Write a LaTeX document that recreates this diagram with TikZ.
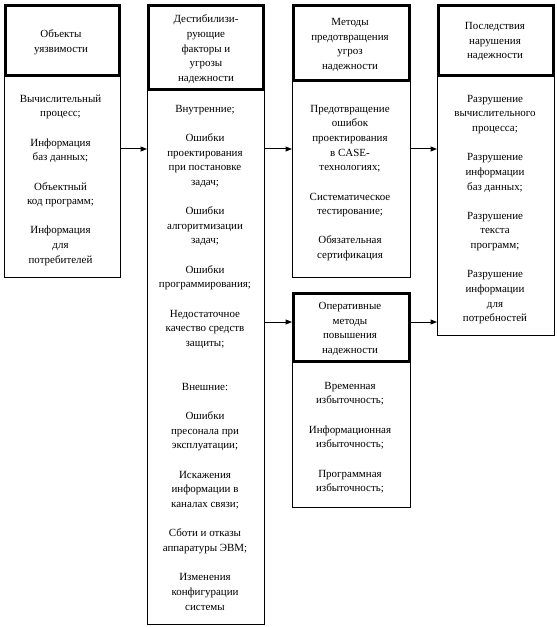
\documentclass[tikz,border=0pt]{standalone}
\usepackage{fontspec}
\setmainfont{Liberation Serif}
\usetikzlibrary{arrows.meta}
\newcommand\gapline{\\\strut\\}
\begin{document}
\begin{tikzpicture}[x=1bp,y=-1bp,
  txt/.style={font=\fontsize{11}{14.7}\selectfont, align=center, inner sep=0pt, anchor=north},
  bodybox/.style={draw, line width=1bp, inner sep=0pt, fill=white},
  headbox/.style={draw, line width=3bp, inner sep=0pt, fill=white},
  conn/.style={line width=1bp, -{Triangle[length=6.5bp,width=5bp]}}]
\useasboundingbox (0,0) rectangle (557,627);
% body boxes
\node[bodybox, minimum width=116bp, minimum height=201.5bp] (b1) at (62.5,176.75) {};
\node[bodybox, minimum width=117bp, minimum height=534.5bp] (b2) at (206,357.25) {};
\node[bodybox, minimum width=118bp, minimum height=196.5bp] (b3) at (351.5,179.25) {};
\node[bodybox, minimum width=118bp, minimum height=145.5bp] (b4) at (351.5,434.75) {};
\node[bodybox, minimum width=117bp, minimum height=259.5bp] (b5) at (496,205.75) {};
% head boxes
\node[headbox, minimum width=114bp, minimum height=70bp] (h1) at (62.5,40.5) {};
\node[headbox, minimum width=115bp, minimum height=84bp] (h2) at (206,47.5) {};
\node[headbox, minimum width=116bp, minimum height=75bp] (h3) at (351.5,43) {};
\node[headbox, minimum width=116bp, minimum height=68bp] (h4) at (351.5,327.5) {};
\node[headbox, minimum width=115bp, minimum height=70bp] (h5) at (496,40.5) {};
% texts
\node[txt] (t1h) at (61,27.5) {\strut Объекты\\уязвимости};
\node[txt] (t1b) at (60.5,91.7) {\strut Вычислительный\\процесс;\gapline Информация\\баз данных;\gapline Объектный\\код программ;\gapline Информация\\для\\потребителей};
\node[txt] (t2h) at (206,12.5) {\strut Дестибилизи-\\рующие\\факторы и\\угрозы\\надежности};
\node[txt] (t2b) at (205,101.7) {\strut Внутренние;\gapline Ошибки\\проектирования\\при постановке\\задач;\gapline Ошибки\\алгоритмизации\\задач;\gapline Ошибки\\программирования;\gapline Недостаточное\\качество средств\\защиты;\gapline\strut\\Внешние:\gapline Ошибки\\пресонала при\\эксплуатации;\gapline Искажения\\информации в\\каналах связи;\gapline Сботи и отказы\\аппаратуры ЭВМ;\gapline Изменения\\конфигурации\\системы};
\node[txt] (t3h) at (350,15.2) {\strut Методы\\предотвращения\\угроз\\надежности};
\node[txt] (t3b) at (350,101.7) {\strut Предотвращение\\ошибок\\проектирования\\в CASE-\\технологиях;\gapline Систематическое\\тестирование;\gapline Обязательная\\сертификация};
\node[txt] (t4h) at (350,299.2) {\strut Оперативные\\методы\\повышения\\надежности};
\node[txt] (t4b) at (350,378.7) {\strut Временная\\избыточность;\gapline Информационная\\избыточность;\gapline Программная\\избыточность;};
\node[txt] (t5h) at (495,19.2) {\strut Последствия\\нарушения\\надежности};
\node[txt] (t5b) at (495,91.7) {\strut Разрушение\\вычислительного\\процесса;\gapline Разрушение\\информации\\баз данных;\gapline Разрушение\\текста\\программ;\gapline Разрушение\\информации\\для\\потребностей};
% connectors
\coordinate (ra) at (0,149);
\coordinate (rb) at (0,322);
\draw[conn] (b1.east |- ra) -- (b2.west |- ra);
\draw[conn] (b2.east |- ra) -- (b3.west |- ra);
\draw[conn] (b2.east |- rb) -- (b4.west |- rb);
\draw[conn] (b3.east |- ra) -- (b5.west |- ra);
\draw[conn] (b4.east |- rb) -- (b5.west |- rb);
\end{tikzpicture}
\end{document}
